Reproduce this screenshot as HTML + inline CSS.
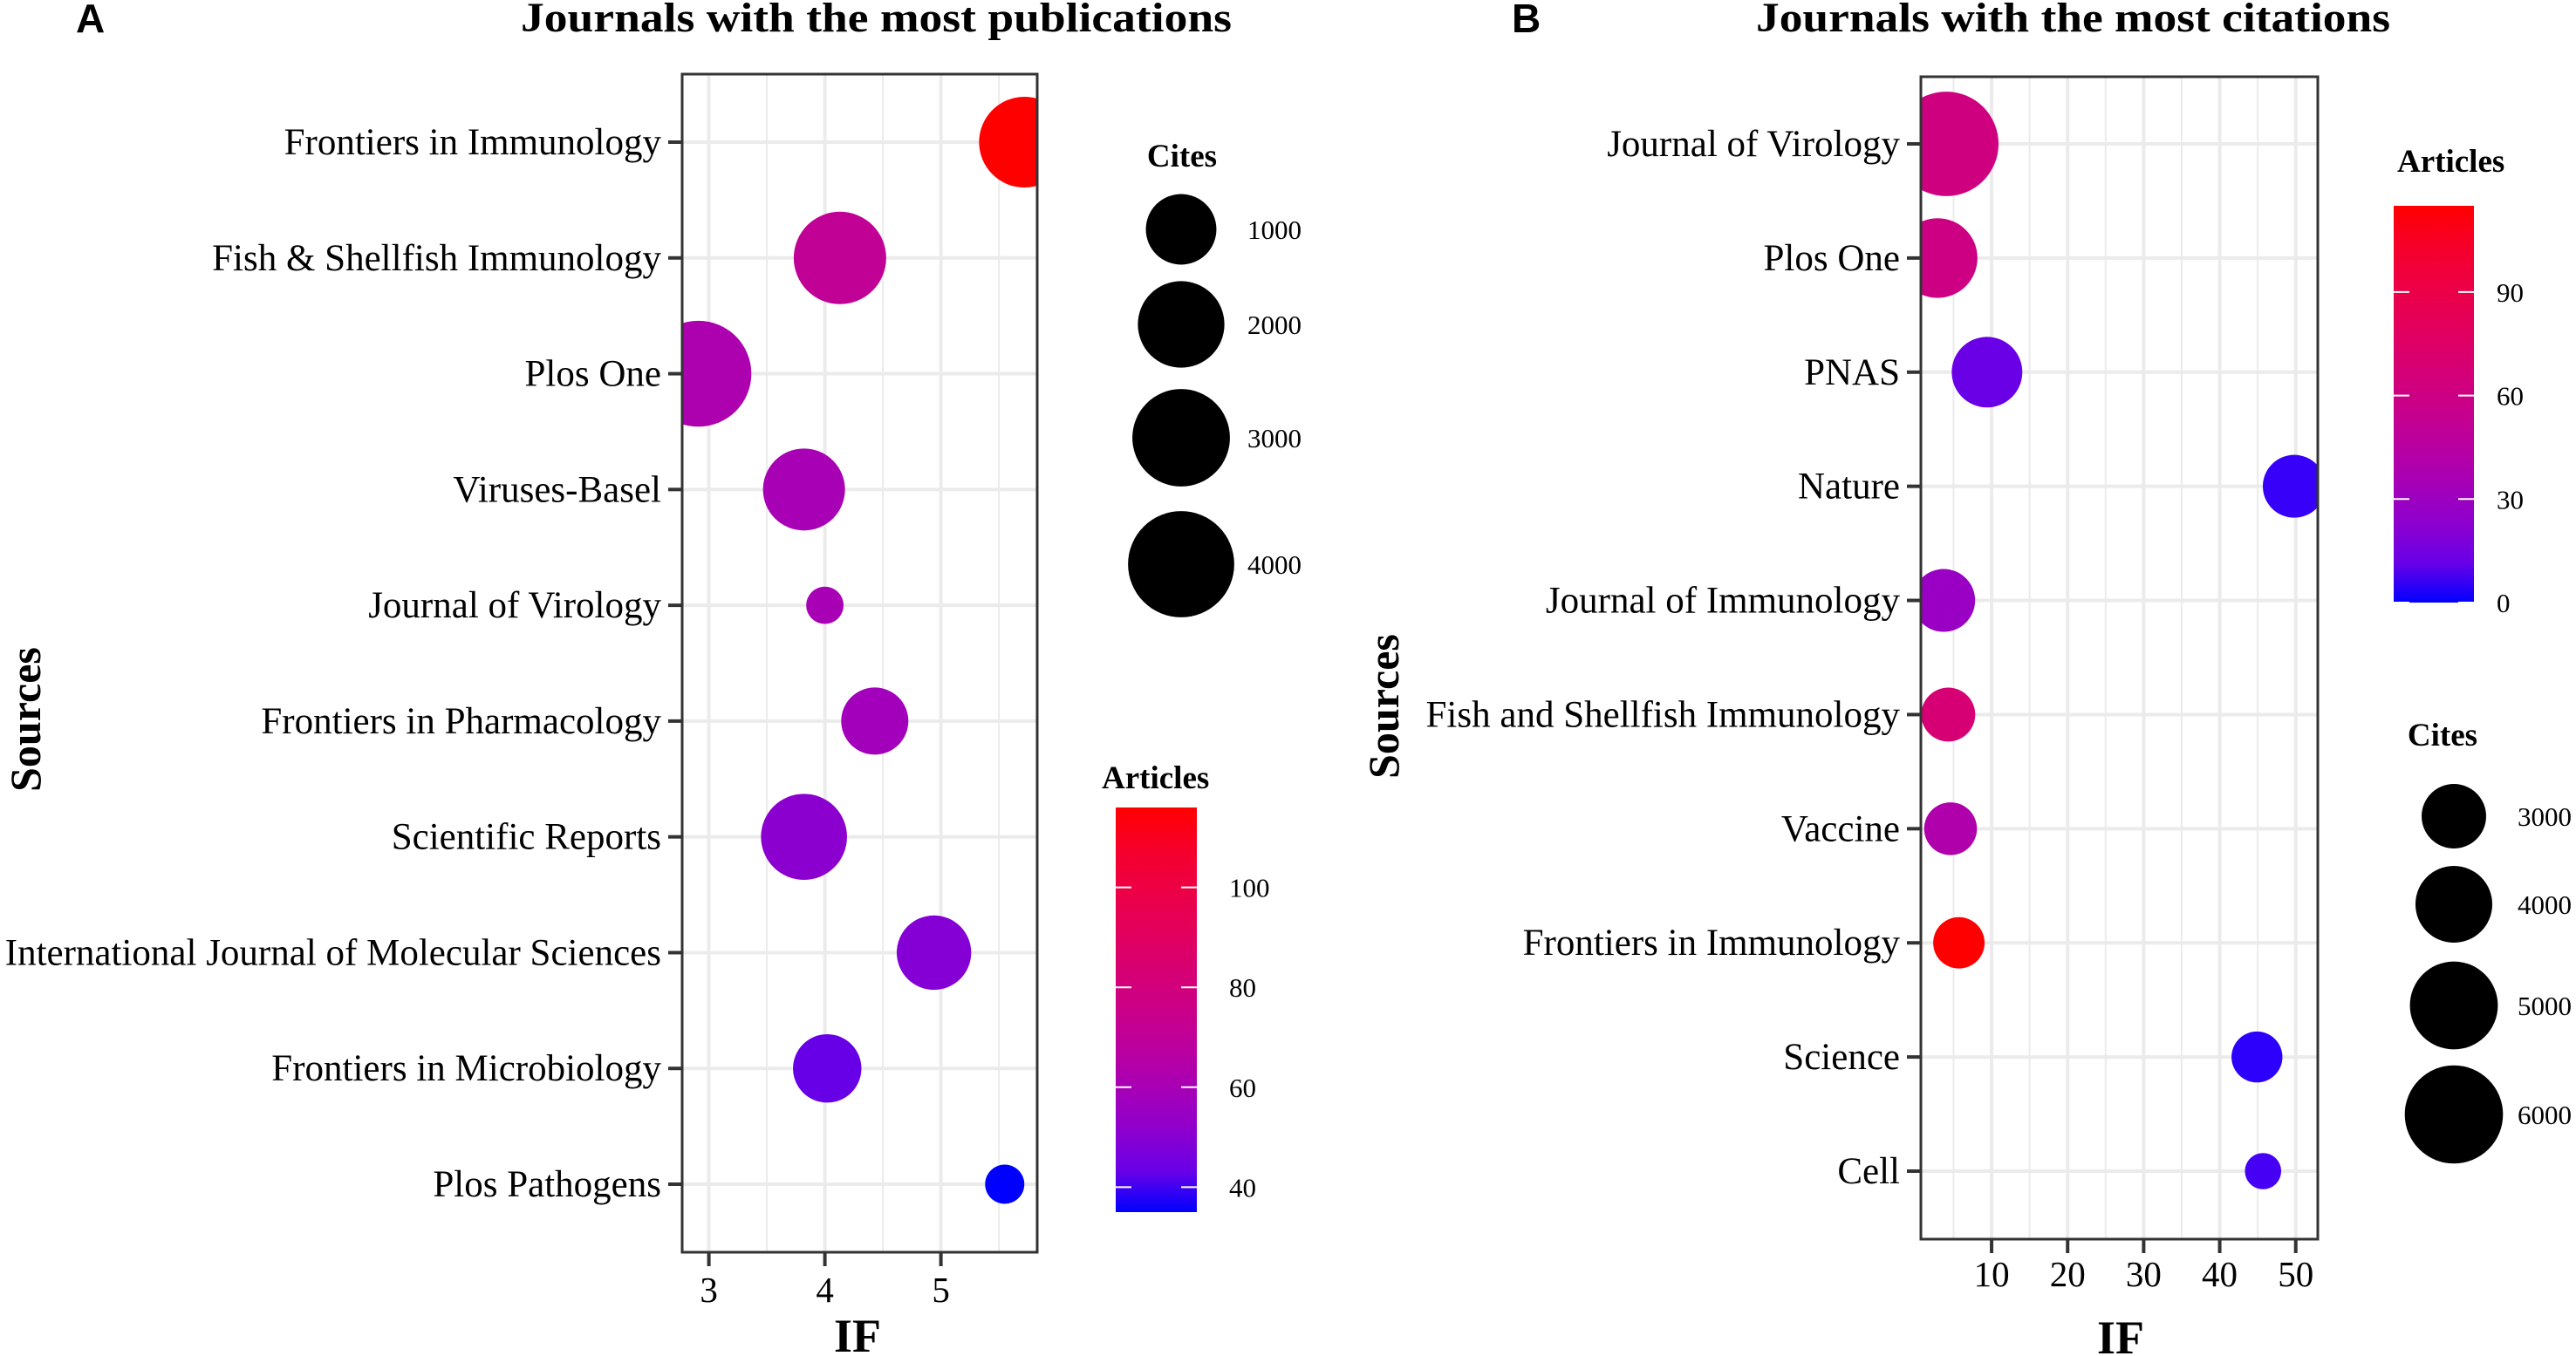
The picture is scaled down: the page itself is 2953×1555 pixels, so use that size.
<!DOCTYPE html>
<html><head><meta charset="utf-8">
<style>
html,body{margin:0;padding:0;background:#fff;}
svg{display:block;}
text{font-family:"Liberation Serif",serif;fill:#000;}
</style></head>
<body>
<svg id="fig" width="2953" height="1555" viewBox="0 0 2953 1555" xmlns="http://www.w3.org/2000/svg">
<defs>
<clipPath id="clipA"><rect x="782" y="85" width="407" height="1351"/></clipPath>
<clipPath id="clipB"><rect x="2202" y="88" width="455" height="1333"/></clipPath>
<linearGradient id="gradA" x1="0" y1="1" x2="0" y2="0"></linearGradient>
<linearGradient id="gradB" x1="0" y1="1" x2="0" y2="0"></linearGradient>
</defs>
<text x="87" y="37" style="font-family:'Liberation Sans',sans-serif;font-weight:bold;font-size:46px">A</text>
<text x="597" y="36" textLength="815" lengthAdjust="spacingAndGlyphs" style="font-weight:bold;font-size:48px">Journals with the most publications</text>
<text x="1733" y="37" style="font-family:'Liberation Sans',sans-serif;font-weight:bold;font-size:46px">B</text>
<text x="2013" y="36" textLength="727" lengthAdjust="spacingAndGlyphs" style="font-weight:bold;font-size:48px">Journals with the most citations</text>
<g id="layer"></g>
</svg>
<script>
// ---------- Panel A data ----------
const catsA = ["Frontiers in Immunology","Fish & Shellfish Immunology","Plos One","Viruses-Basel","Journal of Virology","Frontiers in Pharmacology","Scientific Reports","International Journal of Molecular Sciences","Frontiers in Microbiology","Plos Pathogens"];
const ifA = [5.72, 4.13, 2.91, 3.82, 4.0, 4.43, 3.82, 4.94, 4.02, 5.55];
const citesA = [2350, 2500, 3960, 1665, 116, 847, 1960, 1200, 900, 137];
const articlesA = [116, 71, 62, 60, 60, 58, 51, 49, 43, 35];
const xTicksA = [3, 4, 5];
const citeBreaksA = [1000, 2000, 3000, 4000];
const colBreaksA = [40, 60, 80, 100];
// ---------- Panel B data ----------
const catsB = ["Journal of Virology","Plos One","PNAS","Nature","Journal of Immunology","Fish and Shellfish Immunology","Vaccine","Frontiers in Immunology","Science","Cell"];
const ifB = [4.04, 2.9, 9.4, 49.8, 3.7, 4.3, 4.6, 5.7, 44.9, 45.7];
const citesB = [6650, 4250, 3480, 2870, 2870, 2230, 2155, 2060, 2030, 1160];
const articlesB = [62, 60, 12, 3, 28, 68, 40, 115, 2, 5];
const xTicksB = [10, 20, 30, 40, 50];
const citeBreaksB = [3000, 4000, 5000, 6000];
const colBreaksB = [0, 30, 60, 90];

const NS = "http://www.w3.org/2000/svg";
const layer = document.getElementById('layer');
function mk(tag, attrs, parent){
  const e = document.createElementNS(NS, tag);
  for (const k in attrs) e.setAttribute(k, attrs[k]);
  (parent||layer).appendChild(e);
  return e;
}
function srgb2lin(c){c/=255;return c<=0.04045?c/12.92:Math.pow((c+0.055)/1.055,2.4);}
function lin2srgb(c){c=c<=0.0031308?12.92*c:1.055*Math.pow(c,1/2.4)-0.055;return Math.max(0,Math.min(255,Math.round(c*255)));}
function toLab(r,g,b){
  r=srgb2lin(r);g=srgb2lin(g);b=srgb2lin(b);
  let X=(0.4124*r+0.3576*g+0.1805*b)/0.95047,Y=0.2126*r+0.7152*g+0.0722*b,Z=(0.0193*r+0.1192*g+0.9505*b)/1.08883;
  const f=t=>t>0.008856?Math.cbrt(t):7.787*t+16/116;
  return [116*f(Y)-16,500*(f(X)-f(Y)),200*(f(Y)-f(Z))];
}
function fromLab(L,a,b){
  const fy=(L+16)/116,fx=fy+a/500,fz=fy-b/200;
  const fi=t=>t*t*t>0.008856?t*t*t:(t-16/116)/7.787;
  const X=fi(fx)*0.95047,Y=fi(fy),Z=fi(fz)*1.08883;
  const r=3.2406*X-1.5372*Y-0.4986*Z,g=-0.9689*X+1.8758*Y+0.0415*Z,bb=0.0557*X-0.2040*Y+1.0570*Z;
  return `rgb(${lin2srgb(r)},${lin2srgb(g)},${lin2srgb(bb)})`;
}
const LB=toLab(0,0,255), LR=toLab(255,0,0);
function colorT(t){t=Math.max(0,Math.min(1,t));return fromLab(LB[0]+(LR[0]-LB[0])*t,LB[1]+(LR[1]-LB[1])*t,LB[2]+(LR[2]-LB[2])*t);}
['gradA','gradB'].forEach(id=>{
  const g=document.getElementById(id);
  for(let i=0;i<=10;i++){const s=document.createElementNS(NS,'stop');s.setAttribute('offset',(i/10));s.setAttribute('stop-color',colorT(i/10));g.appendChild(s);}
});

function panel(cfg){
  const {x0,x1,y0,y1,dom,rowTop,rowBot,cats,xs,sizes,arts,ticks,minor,sizeFn,artMin,artMax,clip,tickLabY,ifX,ifY,srcX,srcY,p} = cfg;
  const xs2px = v => x0 + (v-dom[0])/(dom[1]-dom[0])*(x1-x0);
  const ypx = i => rowTop + i*(rowBot-rowTop)/(cats.length-1);
  const bg = mk('rect',{x:x0,y:y0,width:x1-x0,height:y1-y0,fill:'#fff'});
  
  
  minor.forEach(v=>{const l=mk('line',{x1:xs2px(v),x2:xs2px(v),y1:y0,y2:y1,stroke:'#EBEBEB','stroke-width':2});
    
    });
  ticks.forEach(v=>{const l=mk('line',{x1:xs2px(v),x2:xs2px(v),y1:y0,y2:y1,stroke:'#EBEBEB','stroke-width':4});
    
    });
  cats.forEach((c,i)=>{const l=mk('line',{x1:x0,x2:x1,y1:ypx(i),y2:ypx(i),stroke:'#EBEBEB','stroke-width':4});
    
    });
  const g = mk('g',{'clip-path':`url(#${clip})`});
  
  
  cats.forEach((c,i)=>{
    const r=sizeFn(sizes[i]);
    const e=mk('circle',{cx:xs2px(xs[i]),cy:ypx(i),r:r,fill:colorT((arts[i]-artMin)/(artMax-artMin))},g);
    
    
  });
  const border=mk('rect',{x:x0,y:y0,width:x1-x0,height:y1-y0,fill:'none',stroke:'#333','stroke-width':3});
  
  
  cats.forEach((c,i)=>{
    const t=mk('line',{x1:x0-16,x2:x0,y1:ypx(i),y2:ypx(i),stroke:'#333','stroke-width':4});
    
    
    const tx=mk('text',{x:x0-24,y:ypx(i)+14,'text-anchor':'end','font-size':43});
    tx.textContent=c;
    
    
  });
  ticks.forEach(v=>{
    const t=mk('line',{x1:xs2px(v),x2:xs2px(v),y1:y1,y2:y1+16,stroke:'#333','stroke-width':4});
    
    
    const tx=mk('text',{x:xs2px(v),y:tickLabY,'text-anchor':'middle','font-size':41});
    tx.textContent=v;
    
    
  });
  const xt=mk('text',{x:ifX,y:ifY,'text-anchor':'middle','font-size':54,'font-weight':'bold'});
  xt.textContent='IF';
  
  
  const yt=mk('text',{x:srcX,y:srcY,'text-anchor':'middle','font-size':50,'font-weight':'bold',transform:`rotate(-90 ${srcX} ${srcY})`});
  yt.textContent='Sources';
  
  
}

function sizeA(c){return 5.27*Math.pow(Math.max(c,1),0.295);}
function sizeB(c){return 0.289*Math.pow(Math.max(c,1),0.606);}

panel({p:'panel-a',x0:782,x1:1189,y0:85,y1:1436,dom:[2.77,5.83],rowTop:163,rowBot:1358,cats:catsA,xs:ifA,sizes:citesA,arts:articlesA,
  ticks:xTicksA,minor:[3.5,4.5,5.5],sizeFn:sizeA,artMin:35,artMax:116,clip:'clipA',tickLabY:1493,ifX:983,ifY:1550,srcX:46,srcY:825});
panel({p:'panel-b',x0:2202,x1:2657,y0:88,y1:1421,dom:[0.7,52.9],rowTop:165,rowBot:1343,cats:catsB,xs:ifB,sizes:citesB,arts:articlesB,
  ticks:xTicksB,minor:[5,15,25,35,45],sizeFn:sizeB,artMin:0,artMax:115,clip:'clipB',tickLabY:1475,ifX:2431,ifY:1552,srcX:1603,srcY:810});

function sizeLegend(p,title,tx,ty,cx,cys,breaks,fn,labX){
  const t=mk('text',{x:tx,y:ty,'font-size':37,'font-weight':'bold','text-anchor':'middle'});
  t.textContent=title;
  
  
  breaks.forEach((b,i)=>{
    const c=mk('circle',{cx:cx,cy:cys[i],r:fn(b),fill:'#000'});
    
    
    const l=mk('text',{x:labX,y:cys[i]+11,'font-size':31});
    l.textContent=b;
    
    
  });
}
function colorLegend(p,tx,ty,x,yTop,yBot,w,vmin,vmax,breaks,grad,labX){
  const t=mk('text',{x:tx,y:ty,'font-size':37,'font-weight':'bold'});
  t.textContent='Articles';
  
  
  const r=mk('rect',{x:x,y:yTop,width:w,height:yBot-yTop,fill:`url(#${grad})`});
  
  
  const vy=v=>yBot-(v-vmin)/(vmax-vmin)*(yBot-yTop);
  breaks.forEach(b=>{
    [[x,x+18],[x+w-18,x+w]].forEach(s=>{
      const l=mk('line',{x1:s[0],x2:s[1],y1:vy(b),y2:vy(b),stroke:'#fff','stroke-width':2});
      
      
    });
    const l=mk('text',{x:labX,y:vy(b)+11,'font-size':31});
    l.textContent=b;
    
    
  });
}
sizeLegend('panel-a','Cites',1355,191,1354,[263,372,502,647],citeBreaksA,sizeA,1430);
colorLegend('panel-a',1263,904,1279,926,1390,93,35,116,colBreaksA,'gradA',1409);
colorLegend('panel-b',2748,197,2744,236,691,92,0,115,colBreaksB,'gradB',2862);
sizeLegend('panel-b','Cites',2800,855,2813,[936,1037,1153,1278],citeBreaksB,sizeB,2886);
</script>
</body></html>
